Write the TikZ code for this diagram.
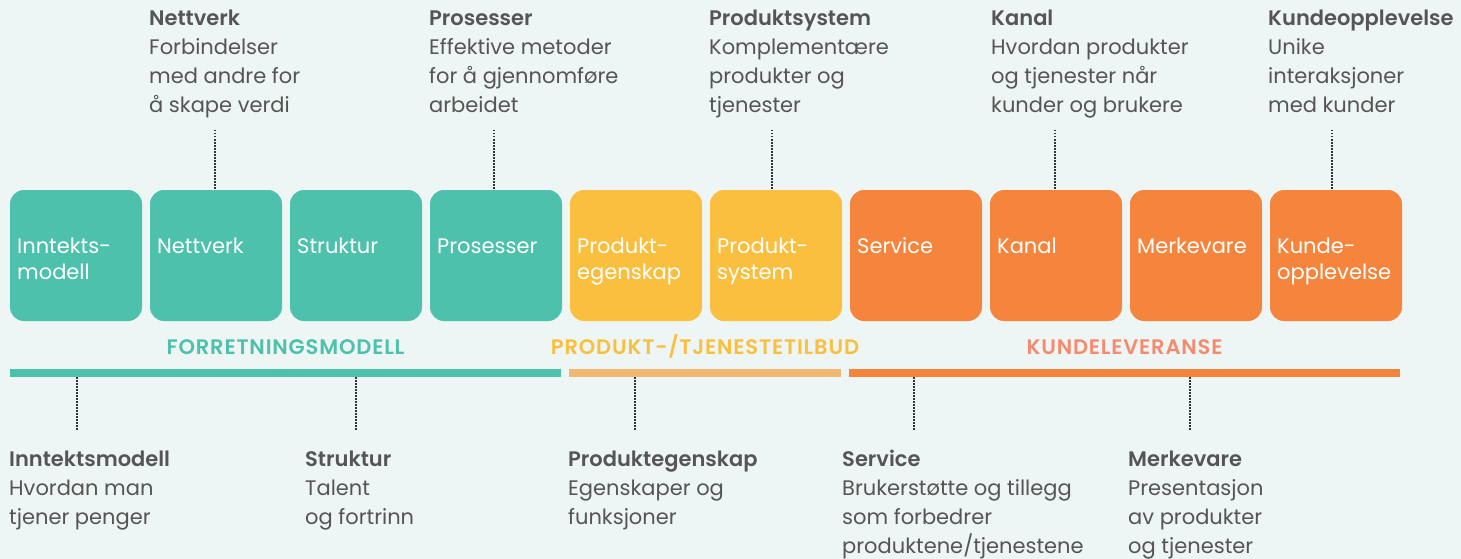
\documentclass[tikz,border=0pt]{standalone}
\usepackage{fontspec}
\IfFontExistsTF{Poppins SemiBold}{\setmainfont{Poppins}[BoldFont={Poppins SemiBold}]}{\setmainfont{Poppins}}
\definecolor{bg}{HTML}{EDF6F4}
\definecolor{tealc}{HTML}{4DC1AB}
\definecolor{yelc}{HTML}{FBBF3F}
\definecolor{orgc}{HTML}{F5853D}
\definecolor{barmid}{HTML}{F0B872}
\definecolor{lblorg}{HTML}{F58B6E}
\definecolor{txt}{HTML}{555555}
\definecolor{dotc}{HTML}{333333}
\begin{document}
\begin{tikzpicture}[x=1pt,y=-1pt,
  box/.style={rounded corners=14pt, minimum width=132pt, minimum height=131pt, inner sep=0pt, draw=none},
  boxtext/.style={anchor=base west, inner sep=0pt, text=white, align=left, font=\fontsize{21}{26}\selectfont},
  desc/.style={anchor=base west, inner sep=0pt, text=txt, align=left, font=\fontsize{21}{29}\selectfont},
  bar/.style={minimum height=8pt, inner sep=0pt, draw=none},
  grp/.style={anchor=base, inner sep=0pt, font=\fontsize{21}{24}\selectfont\bfseries\addfontfeatures{LetterSpace=4}},
  dots/.style={dotc, line width=1.5pt, dash pattern=on 1.5pt off 1.5pt}
]
\fill[bg] (0,0) rectangle (1461,559);
\useasboundingbox (0,0) rectangle (1461,559);

% boxes
\node[box, fill=tealc] (b1) at (76,255.5) {};
\node[box, fill=tealc] (b2) at (216,255.5) {};
\node[box, fill=tealc] (b3) at (356,255.5) {};
\node[box, fill=tealc] (b4) at (496,255.5) {};
\node[box, fill=yelc] (b5) at (636,255.5) {};
\node[box, fill=yelc] (b6) at (776,255.5) {};
\node[box, fill=orgc] (b7) at (916,255.5) {};
\node[box, fill=orgc] (b8) at (1056,255.5) {};
\node[box, fill=orgc] (b9) at (1196,255.5) {};
\node[box, fill=orgc] (b10) at (1336,255.5) {};

% box texts (base anchor = baseline of last line)
\node[boxtext] (t1) at (17,279) {Inntekts-\\modell};
\node[boxtext] (t2) at (157,253) {Nettverk};
\node[boxtext] (t3) at (297,253) {Struktur};
\node[boxtext] (t4) at (437,253) {Prosesser};
\node[boxtext] (t5) at (577,279) {Produkt-\\egenskap};
\node[boxtext] (t6) at (717,279) {Produkt-\\system};
\node[boxtext] (t7) at (857,253) {Service};
\node[boxtext] (t8) at (997,253) {Kanal};
\node[boxtext] (t9) at (1137,253) {Merkevare};
\node[boxtext] (t10) at (1277,279) {Kunde-\\opplevelse};

% top descriptions
\node[desc] (d2) at (149,113) {\textbf{Nettverk}\\Forbindelser\\med andre for\\å skape verdi};
\node[desc] (d4) at (429,113) {\textbf{Prosesser}\\Effektive metoder\\for å gjennomføre\\arbeidet};
\node[desc] (d6) at (709,113) {\textbf{Produktsystem}\\Komplementære\\produkter og\\tjenester};
\node[desc] (d8) at (991,113) {\textbf{Kanal}\\Hvordan produkter\\og tjenester når\\kunder og brukere};
\node[desc] (d10) at (1268,113) {\textbf{Kundeopplevelse}\\Unike\\interaksjoner\\med kunder};

\coordinate (u2) at (215,130);
\coordinate (u4) at (494,130);
\coordinate (u6) at (772,130);
\coordinate (u8) at (1055,130);
\coordinate (u10) at (1332,130);
\draw[dots] (u2) -- (u2 |- b2.north);
\draw[dots] (u4) -- (u4 |- b4.north);
\draw[dots] (u6) -- (u6 |- b6.north);
\draw[dots] (u8) -- (u8 |- b8.north);
\draw[dots] (u10) -- (u10 |- b10.north);

% bars
\node[bar, fill=tealc, minimum width=551pt] (bar1) at (285.5,373) {};
\node[bar, fill=barmid, minimum width=272pt] (bar2) at (705,373) {};
\node[bar, fill=orgc, minimum width=551pt] (bar3) at (1124.5,373) {};

\node[grp, text=tealc] (g1) at (285.5,354) {FORRETNINGSMODELL};
\node[grp, text=yelc] (g2) at (705,354) {PRODUKT-/TJENESTETILBUD};
\node[grp, text=lblorg] (g3) at (1124.5,354) {KUNDELEVERANSE};

% bottom dotted
\coordinate (l1) at (77,430);
\coordinate (l3) at (356,430);
\coordinate (l5) at (635,430);
\coordinate (l7) at (914,430);
\coordinate (l9) at (1190,430);
\draw[dots] (l1 |- bar1.south) -- (l1);
\draw[dots] (l3 |- bar1.south) -- (l3);
\draw[dots] (l5 |- bar2.south) -- (l5);
\draw[dots] (l7 |- bar3.south) -- (l7);
\draw[dots] (l9 |- bar3.south) -- (l9);

% bottom descriptions
\node[desc] (e1) at (9,524) {\textbf{Inntektsmodell}\\Hvordan man\\tjener penger};
\node[desc] (e3) at (305,524) {\textbf{Struktur}\\Talent\\og fortrinn};
\node[desc] (e5) at (568,524) {\textbf{Produktegenskap}\\Egenskaper og\\funksjoner};
\node[desc] (e7) at (842,553) {\textbf{Service}\\Brukerstøtte og tillegg\\som forbedrer\\produktene/tjenestene};
\node[desc] (e9) at (1128,553) {\textbf{Merkevare}\\Presentasjon\\av produkter\\og tjenester};
\end{tikzpicture}
\end{document}
